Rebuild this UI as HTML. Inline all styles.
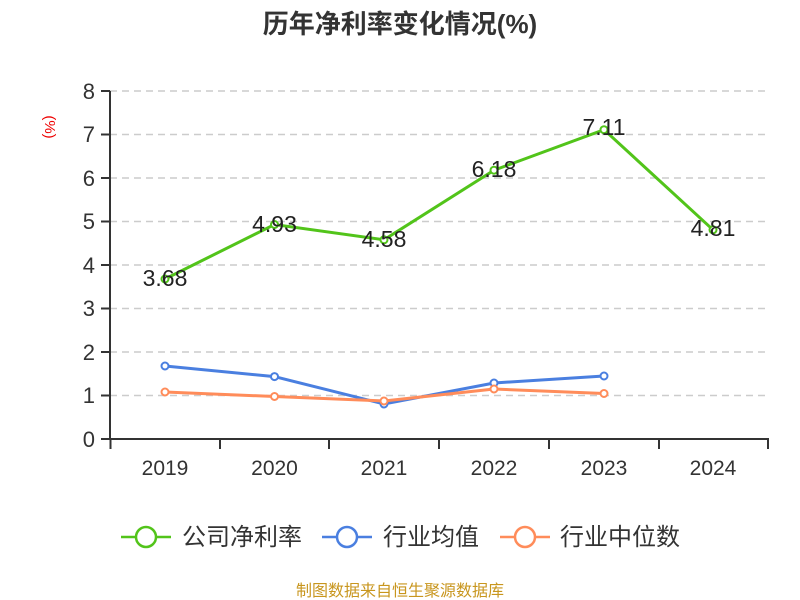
<!DOCTYPE html>
<html><head><meta charset="utf-8"><style>
body{margin:0;background:#fff;}
svg{display:block;font-family:"Liberation Sans","Noto Sans CJK SC",sans-serif;}
</style></head><body>
<svg width="800" height="600" viewBox="0 0 800 600">
<text x="400" y="33" text-anchor="middle" font-size="26" font-weight="bold" fill="#333">历年净利率变化情况(%)</text>
<text transform="translate(49,127) rotate(90)" text-anchor="middle" font-size="15" fill="#e00" dominant-baseline="middle">(%)</text>
<g stroke="#ccc" stroke-width="1.5" stroke-dasharray="7,5">
<line x1="110" x2="768" y1="91" y2="91"/><line x1="110" x2="768" y1="134.5" y2="134.5"/>
<line x1="110" x2="768" y1="178" y2="178"/><line x1="110" x2="768" y1="221.5" y2="221.5"/>
<line x1="110" x2="768" y1="265" y2="265"/><line x1="110" x2="768" y1="308.5" y2="308.5"/>
<line x1="110" x2="768" y1="352" y2="352"/><line x1="110" x2="768" y1="395.5" y2="395.5"/>
</g>
<g stroke="#333" stroke-width="2">
<line x1="110" y1="91" x2="110" y2="439"/>
<line x1="110" y1="439" x2="769" y2="439"/>
<line x1="101" x2="110" y1="91" y2="91"/><line x1="101" x2="110" y1="134.5" y2="134.5"/>
<line x1="101" x2="110" y1="178" y2="178"/><line x1="101" x2="110" y1="221.5" y2="221.5"/>
<line x1="101" x2="110" y1="265" y2="265"/><line x1="101" x2="110" y1="308.5" y2="308.5"/>
<line x1="101" x2="110" y1="352" y2="352"/><line x1="101" x2="110" y1="395.5" y2="395.5"/>
<line x1="101" x2="110" y1="439" y2="439"/>
<line x1="110.5" x2="110.5" y1="439" y2="449"/><line x1="220" x2="220" y1="439" y2="449"/>
<line x1="329" x2="329" y1="439" y2="449"/><line x1="439" x2="439" y1="439" y2="449"/>
<line x1="549" x2="549" y1="439" y2="449"/><line x1="659" x2="659" y1="439" y2="449"/>
<line x1="768" x2="768" y1="439" y2="449"/>
</g>
<g font-size="22" fill="#333" text-anchor="end">
<text x="95" y="99">8</text><text x="95" y="142">7</text><text x="95" y="186">6</text>
<text x="95" y="229">5</text><text x="95" y="273">4</text><text x="95" y="316">3</text>
<text x="95" y="360">2</text><text x="95" y="403">1</text><text x="95" y="447">0</text>
</g>
<g font-size="21" fill="#333" text-anchor="middle">
<text x="165" y="475">2019</text><text x="274.5" y="475">2020</text><text x="384" y="475">2021</text>
<text x="494" y="475">2022</text><text x="604" y="475">2023</text><text x="713" y="475">2024</text>
</g>
<polyline fill="none" stroke="#52c41a" stroke-width="3" points="165,279 274.5,224.5 384,239.8 494,170.2 604,129.7 713,229.8"/>
<polyline fill="none" stroke="#4a7fe0" stroke-width="3" points="165,366 274.5,376.6 384,404 494,383 604,376"/>
<polyline fill="none" stroke="#ff8c5a" stroke-width="3" points="165,392 274.5,396.5 384,401 494,389 604,393.5"/>
<g fill="#fff" stroke="#4a7fe0" stroke-width="2">
<circle cx="165" cy="366" r="3.5"/><circle cx="274.5" cy="376.6" r="3.5"/><circle cx="384" cy="404" r="3.5"/><circle cx="494" cy="383" r="3.5"/><circle cx="604" cy="376" r="3.5"/>
</g>
<g fill="#fff" stroke="#ff8c5a" stroke-width="2">
<circle cx="165" cy="392" r="3.5"/><circle cx="274.5" cy="396.5" r="3.5"/><circle cx="384" cy="401" r="3.5"/><circle cx="494" cy="389" r="3.5"/><circle cx="604" cy="393.5" r="3.5"/>
</g>
<g fill="#fff" stroke="#52c41a" stroke-width="2">
<circle cx="165" cy="279" r="3.5"/><circle cx="274.5" cy="224.5" r="3.5"/><circle cx="384" cy="239.8" r="3.5"/><circle cx="494" cy="170.2" r="3.5"/><circle cx="604" cy="129.7" r="3.5"/><circle cx="713" cy="229.8" r="3.5"/>
</g>
<g font-size="23" fill="#222" text-anchor="middle">
<text x="165" y="286">3.68</text><text x="274.5" y="232">4.93</text><text x="384" y="247">4.58</text>
<text x="494" y="177">6.18</text><text x="604" y="135">7.11</text><text x="713" y="236">4.81</text>
</g>
<g stroke-width="2.5" fill="#fff">
<line x1="121" x2="171" y1="537" y2="537" stroke="#52c41a"/><circle cx="146" cy="537" r="10" stroke="#52c41a"/>
<line x1="322" x2="372" y1="537" y2="537" stroke="#4a7fe0"/><circle cx="347" cy="537" r="10" stroke="#4a7fe0"/>
<line x1="500" x2="550" y1="537" y2="537" stroke="#ff8c5a"/><circle cx="525" cy="537" r="10" stroke="#ff8c5a"/>
</g>
<g font-size="24" fill="#333">
<text x="182" y="545">公司净利率</text><text x="383" y="545">行业均值</text><text x="560" y="545">行业中位数</text>
</g>
<text x="400" y="596" text-anchor="middle" font-size="16" fill="#c8961e">制图数据来自恒生聚源数据库</text>
</svg>
</body></html>
